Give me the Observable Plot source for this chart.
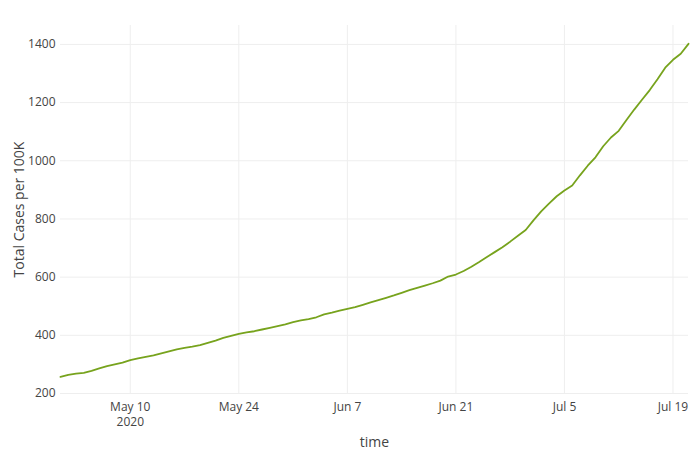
<!DOCTYPE html>
<html>
<head>
<meta charset="utf-8">
<script src="https://cdn.jsdelivr.net/npm/d3@7"></script>
<script src="https://cdn.jsdelivr.net/npm/@observablehq/plot@0.6"></script>
<style>
  html, body { margin: 0; padding: 0; background: #fff; }
  #chart { width: 700px; height: 450px; }
  svg { font-family: "Open Sans", sans-serif; }
  svg g[aria-label="x-axis label"] text,
  svg g[aria-label="y-axis label"] text { font-size: 14px; }
</style>
</head>
<body>
<div id="chart"></div>
<script>
// Daily dates, May 1 2020 – Jul 21 2020
const startDate = "2020-05-01";
const totalCasesPer100K = [
  257, 264, 268, 271, 278, 286, 294, 300, 306, 315,
  321, 326, 331, 338, 345, 352, 357, 361, 366, 374,
  382, 391, 398, 405, 410, 414, 420, 426, 432, 438,
  445, 451, 456, 462, 472, 478, 485, 491, 497, 505,
  513, 521, 529, 537, 546, 555, 563, 571, 579, 588,
  602, 609, 621, 636, 652, 669, 686, 703, 722, 742,
  762, 795, 826, 853, 878, 898, 915, 950, 983, 1012,
  1050, 1080, 1103, 1140, 1176, 1210, 1243, 1280, 1320, 1347,
  1368, 1402
];
const yTicks = [200, 400, 600, 800, 1000, 1200, 1400];
const xTickDates = ["2020-05-10", "2020-05-24", "2020-06-07", "2020-06-21", "2020-07-05", "2020-07-19"];

const t0 = new Date(startDate + "T00:00:00Z");
const data = totalCasesPer100K.map((v, i) => ({
  time: new Date(t0.getTime() + i * 86400000),
  value: v
}));
const xTicks = xTickDates.map(d => new Date(d + "T00:00:00Z"));
const fmt = d3.utcFormat("%b %-d");

const chart = Plot.plot({
  width: 700,
  height: 450,
  marginLeft: 60,
  marginRight: 12,
  marginTop: 25,
  marginBottom: 57,
  style: {fontFamily: "'Open Sans', sans-serif", fontSize: "12px", color: "#444", background: "#fff"},
  x: {
    type: "utc",
    domain: [data[0].time, data[data.length - 1].time]
  },
  y: {
    domain: [200, 1465]
  },
  marks: [
    Plot.gridY(yTicks, {stroke: "#eee", strokeOpacity: 1}),
    Plot.gridX(xTicks, {stroke: "#eee", strokeOpacity: 1}),
    Plot.axisY(yTicks, {
      tickSize: 0, tickPadding: 5, fontSize: 12, fill: "#444",
      tickFormat: d => String(d),
      label: "Total Cases per 100K", labelAnchor: "center", labelOffset: 46, labelArrow: "none"
    }),
    Plot.axisX(xTicks, {
      tickSize: 0, tickPadding: 6, fontSize: 12, fill: "#444", lineHeight: 1.3,
      tickFormat: (d, i) => i === 0 ? fmt(d) + "\n2020" : fmt(d),
      label: "time", labelAnchor: "center", labelOffset: 53, labelArrow: "none"
    }),
    Plot.line(data, {x: "time", y: "value", stroke: "#77a31d", strokeWidth: 1.8})
  ]
});
document.getElementById("chart").appendChild(chart);
</script>
</body>
</html>
